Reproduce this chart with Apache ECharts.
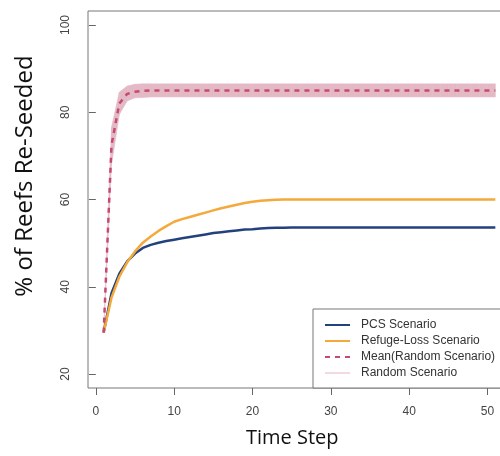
<!DOCTYPE html>
<html>
<head>
<meta charset="utf-8">
<script src="https://cdn.jsdelivr.net/npm/echarts@6/dist/echarts.min.js"></script>
<style>
  html, body { margin: 0; padding: 0; background: #fff; }
  #chart_div { width: 500px; height: 456px; }
</style>
</head>
<body>
<div id="chart_div"></div>
<script>
// time steps 1..51
var timeSteps = [1, 2, 3, 4, 5, 6, 7, 8, 9, 10, 11, 12, 13, 14, 15, 16, 17, 18, 19, 20,
  21, 22, 23, 24, 25, 26, 27, 28, 29, 30, 31, 32, 33, 34, 35, 36, 37, 38, 39, 40,
  41, 42, 43, 44, 45, 46, 47, 48, 49, 50, 51];

var pcsValues = [29.5, 38.5, 43.0, 45.8, 47.6, 48.9, 49.6, 50.1, 50.5, 50.8,
  51.1, 51.4, 51.7, 52.0, 52.3, 52.5, 52.7, 52.9, 53.1, 53.2,
  53.35, 53.45, 53.5, 53.55, 53.6, 53.6, 53.6, 53.6, 53.6, 53.6,
  53.6, 53.6, 53.6, 53.6, 53.6, 53.6, 53.6, 53.6, 53.6, 53.6,
  53.6, 53.6, 53.6, 53.6, 53.6, 53.6, 53.6, 53.6, 53.6, 53.6, 53.6];

var refugeValues = [29.5, 37.5, 42.3, 45.6, 48.1, 50.1, 51.5, 52.8, 53.9, 54.9,
  55.5, 56.0, 56.5, 57.0, 57.5, 58.0, 58.4, 58.8, 59.2, 59.5,
  59.7, 59.85, 59.95, 60.0, 60.0, 60.0, 60.0, 60.0, 60.0, 60.0,
  60.0, 60.0, 60.0, 60.0, 60.0, 60.0, 60.0, 60.0, 60.0, 60.0,
  60.0, 60.0, 60.0, 60.0, 60.0, 60.0, 60.0, 60.0, 60.0, 60.0, 60.0];

var randomMean = [29.5, 72.5, 82.0, 84.2, 84.7, 84.9, 85.0, 85.0, 85.0, 85.0,
  85.0, 85.0, 85.0, 85.0, 85.0, 85.0, 85.0, 85.0, 85.0, 85.0,
  85.0, 85.0, 85.0, 85.0, 85.0, 85.0, 85.0, 85.0, 85.0, 85.0,
  85.0, 85.0, 85.0, 85.0, 85.0, 85.0, 85.0, 85.0, 85.0, 85.0,
  85.0, 85.0, 85.0, 85.0, 85.0, 85.0, 85.0, 85.0, 85.0, 85.0, 85.0];

var randomLower = [29.5, 68.0, 79.5, 82.6, 83.3, 83.4, 83.5, 83.5, 83.5, 83.5,
  83.5, 83.5, 83.5, 83.5, 83.5, 83.5, 83.5, 83.5, 83.5, 83.5,
  83.5, 83.5, 83.5, 83.5, 83.5, 83.5, 83.5, 83.5, 83.5, 83.5,
  83.5, 83.5, 83.5, 83.5, 83.5, 83.5, 83.5, 83.5, 83.5, 83.5,
  83.5, 83.5, 83.5, 83.5, 83.5, 83.5, 83.5, 83.5, 83.5, 83.5, 83.5];

var randomUpper = [29.5, 76.5, 84.6, 86.0, 86.4, 86.5, 86.5, 86.5, 86.5, 86.5,
  86.5, 86.5, 86.5, 86.5, 86.5, 86.5, 86.5, 86.5, 86.5, 86.5,
  86.5, 86.5, 86.5, 86.5, 86.5, 86.5, 86.5, 86.5, 86.5, 86.5,
  86.5, 86.5, 86.5, 86.5, 86.5, 86.5, 86.5, 86.5, 86.5, 86.5,
  86.5, 86.5, 86.5, 86.5, 86.5, 86.5, 86.5, 86.5, 86.5, 86.5, 86.5];

var xTicks = [0, 10, 20, 30, 40, 50];
var yTicks = [20, 40, 60, 80, 100];

var seriesNames = ["PCS Scenario", "Refuge-Loss Scenario", "Mean(Random Scenario)", "Random Scenario"];

function pairs(values) {
  return timeSteps.map(function (t, i) {
    return [t, values[i]];
  });
}

var chart = echarts.init(document.getElementById("chart_div"));

// band between min and max of the random runs, one quad per step
function renderBand(params, api) {
  var i = params.dataIndex;
  if (i >= timeSteps.length - 1) return;
  var pts = [
    api.coord([timeSteps[i], randomLower[i]]),
    api.coord([timeSteps[i + 1], randomLower[i + 1]]),
    api.coord([timeSteps[i + 1], randomUpper[i + 1]]),
    api.coord([timeSteps[i], randomUpper[i]])
  ];
  return {
    type: "polygon",
    shape: { points: pts },
    style: { fill: "#e4b9c6", stroke: "#e4b9c6", lineWidth: 0.6 }
  };
}

var option = {
  animation: false,
  grid: {
    left: 88,
    top: 11,
    width: 423,
    height: 377,
    outerBoundsMode: "none",
    show: true,
    borderColor: "#777",
    borderWidth: 1
  },
  xAxis: {
    type: "value",
    min: -1,
    max: 53,
    splitLine: { show: false },
    axisLine: { show: false },
    axisTick: {
      show: true,
      length: 7,
      customValues: xTicks,
      lineStyle: { color: "#666" }
    },
    axisLabel: {
      customValues: xTicks,
      margin: 18,
      color: "#444",
      fontFamily: "Liberation Sans",
      fontSize: 12
    }
  },
  yAxis: {
    type: "value",
    min: 16.8,
    max: 103.2,
    splitLine: { show: false },
    axisLine: { show: false },
    axisTick: {
      show: true,
      length: 7,
      customValues: yTicks,
      lineStyle: { color: "#666" }
    },
    axisLabel: {
      customValues: yTicks,
      rotate: 90,
      margin: 16,
      color: "#444",
      fontFamily: "Liberation Sans",
      fontSize: 12
    }
  },
  legend: {
    orient: "vertical",
    left: 313,
    top: 309,
    padding: [10, 40, 9, 11],
    itemWidth: 25,
    itemHeight: 10,
    itemGap: 4,
    backgroundColor: "#fff",
    borderColor: "#777",
    borderWidth: 1,
    selectedMode: false,
    itemStyle: { opacity: 0 },
    textStyle: {
      color: "#333",
      fontFamily: "Liberation Sans",
      fontSize: 12,
      padding: [0, 0, 0, 6]
    },
    data: seriesNames
  },
  graphic: [
    {
      type: "text",
      left: 246,
      top: 428,
      style: {
        text: "Time Step",
        fontFamily: "Open Sans",
        fontSize: 20,
        fill: "#111"
      }
    },
    {
      type: "text",
      x: 25,
      y: 176,
      rotation: Math.PI / 2,
      style: {
        text: "% of Reefs Re-Seeded",
        fontFamily: "Open Sans",
        fontSize: 24,
        fill: "#111",
        align: "center",
        verticalAlign: "middle"
      }
    }
  ],
  series: [
    {
      name: "randomBand",
      type: "custom",
      silent: true,
      renderItem: renderBand,
      data: timeSteps.map(function (t, i) { return [t, randomLower[i], randomUpper[i]]; }),
      encode: { x: 0, y: [1, 2] }
    },
    {
      name: seriesNames[0],
      type: "line",
      symbol: "none",
      color: "#23417e",
      lineStyle: { width: 2.5, color: "#23417e" },
      data: pairs(pcsValues)
    },
    {
      name: seriesNames[1],
      type: "line",
      symbol: "none",
      color: "#f4a93a",
      lineStyle: { width: 2.5, color: "#f4a93a" },
      data: pairs(refugeValues)
    },
    {
      name: seriesNames[2],
      type: "line",
      symbol: "none",
      color: "#c64a6f",
      lineStyle: { width: 2.5, color: "#c64a6f", type: [5, 5] },
      data: pairs(randomMean)
    },
    {
      // legend entry only: the individual random runs lie inside the band
      name: seriesNames[3],
      type: "line",
      symbol: "none",
      color: "#f3d9e1",
      lineStyle: { width: 2, color: "#f3d9e1" },
      data: []
    }
  ]
};

chart.setOption(option);
</script>
</body>
</html>
